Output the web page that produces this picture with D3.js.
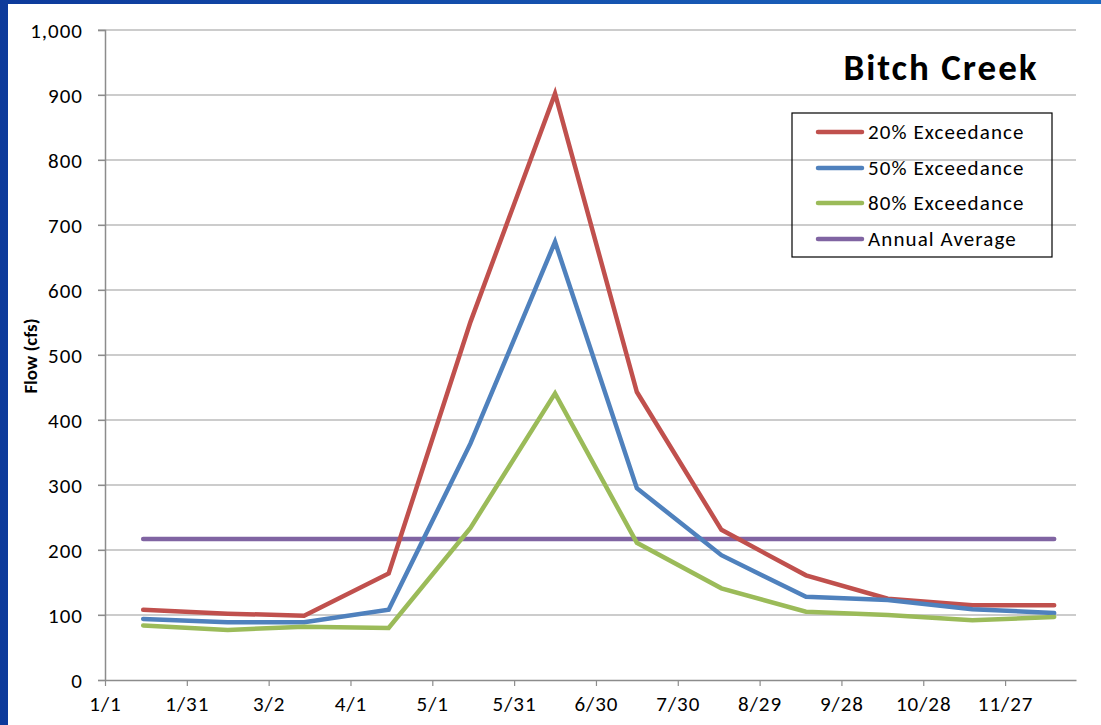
<!DOCTYPE html>
<html><head><meta charset="utf-8">
<script src="https://cdn.jsdelivr.net/npm/d3@7"></script>
<style>body{margin:0;padding:0;overflow:hidden}svg{display:block}</style>
</head><body>
<svg id="c" width="1101" height="725"></svg>
<script>
// Data (day of year, 0 = Jan 1)
const pointDays = [14, 45, 73, 104, 134, 165, 195, 226, 257, 287, 318, 348];
const exceed20 = [108, 102, 99, 164, 551, 902, 443, 231, 161, 125, 115, 115];
const exceed50 = [94, 89, 89, 108, 364, 674, 295, 192, 128, 123, 109, 103];
const exceed80 = [84, 77, 82, 80, 234, 441, 211, 141, 105, 100, 92, 97];
const annualAvg = [217, 217, 217, 217, 217, 217, 217, 217, 217, 217, 217, 217];
const seriesNames = ["20% Exceedance", "50% Exceedance", "80% Exceedance", "Annual Average"];
const tickDays = [0, 30, 60, 90, 120, 150, 180, 210, 240, 270, 300, 330];
const tickLabels = ["1/1", "1/31", "3/2", "4/1", "5/1", "5/31", "6/30", "7/30", "8/29", "9/28", "10/28", "11/27"];
const yTicks = [0, 100, 200, 300, 400, 500, 600, 700, 800, 900, 1000];

const svg = d3.select("#c");
const W = 1101, H = 725;
const font = "Calibri, Carlito, 'Open Sans', sans-serif";

// background
const defs = svg.append("defs");
const g = defs.append("linearGradient").attr("id", "bg").attr("x1", "0").attr("x2", "1").attr("y1", "0").attr("y2", "0");
g.append("stop").attr("offset", "0").attr("stop-color", "#0d3a9b");
g.append("stop").attr("offset", "1").attr("stop-color", "#1c68c0");
svg.append("rect").attr("width", W).attr("height", H).attr("fill", "url(#bg)");
svg.append("rect").attr("x", 8).attr("y", 4).attr("width", W - 8).attr("height", H - 4).attr("fill", "#fff");

const L = 105, R = 1076, T = 30, B = 680;
const x = d3.scaleLinear().domain([0, 356]).range([L, R]);
const y = d3.scaleLinear().domain([0, 1000]).range([B, T]);

// gridlines
svg.append("g").selectAll("line").data(yTicks.filter(d => d > 0)).join("line")
  .attr("x1", L - 7).attr("x2", R).attr("y1", d => y(d)).attr("y2", d => y(d))
  .attr("stroke", "#9a9a9a").attr("stroke-width", 1.2);

// y axis
const yAxis = d3.axisLeft(y).tickValues(yTicks).tickSize(7).tickFormat(d3.format(","));
const ya = svg.append("g").attr("transform", `translate(${L},0)`).call(yAxis);
ya.select(".domain").attr("stroke", "#8c8c8c").attr("stroke-width", 1.5);
ya.selectAll(".tick line").attr("stroke", "#8c8c8c").attr("stroke-width", 1.2);
ya.selectAll("text").attr("font-family", font).attr("font-size", 21).attr("letter-spacing", "1px")
  .attr("fill", "#000").attr("x", -22).attr("dy", "0.35em");

// x axis
const xAxis = d3.axisBottom(x).tickValues(tickDays).tickSize(6).tickSizeOuter(0).tickFormat((d, i) => tickLabels[i]);
const xa = svg.append("g").attr("transform", `translate(0,${B})`).call(xAxis);
xa.select(".domain").attr("stroke", "#8c8c8c").attr("stroke-width", 1.5);
xa.selectAll(".tick line").attr("stroke", "#8c8c8c").attr("stroke-width", 1.2);
xa.selectAll("text").attr("font-family", font).attr("font-size", 21).attr("letter-spacing", "1px")
  .attr("fill", "#000").attr("y", 16).attr("dy", "0.71em");

// y label
svg.append("text").attr("transform", "translate(37,356) rotate(-90)").attr("text-anchor", "middle")
  .attr("font-family", font).attr("font-weight", "bold").attr("font-size", 19).text("Flow (cfs)");

// lines
const colors = ["#c0504d", "#4f81bd", "#9bbb59", "#8064a2"];
const allSeries = [exceed20, exceed50, exceed80, annualAvg];
const line = d3.line().x((d, i) => x(pointDays[i])).y(d => y(d));
const drawOrder = [3, 0, 1, 2];
drawOrder.forEach(k => {
  svg.append("path").datum(allSeries[k]).attr("d", line).attr("fill", "none")
    .attr("stroke", colors[k]).attr("stroke-width", 4.5).attr("stroke-linejoin", "miter").attr("stroke-linecap", "round");
});

// title
svg.append("text").attr("x", 941).attr("y", 80).attr("text-anchor", "middle")
  .attr("font-family", font).attr("font-weight", "bold").attr("font-size", 37).attr("letter-spacing", "2px").text("Bitch Creek");

// legend
const lg = svg.append("g");
lg.append("rect").attr("x", 792).attr("y", 113).attr("width", 260).attr("height", 144)
  .attr("fill", "none").attr("stroke", "#000").attr("stroke-width", 1.2);
const rowY = [132, 168, 203, 239];
seriesNames.forEach((n, i) => {
  lg.append("line").attr("x1", 818).attr("x2", 862).attr("y1", rowY[i]).attr("y2", rowY[i])
    .attr("stroke", colors[i]).attr("stroke-width", 4.5).attr("stroke-linecap", "round");
  lg.append("text").attr("x", 868).attr("y", rowY[i]).attr("dy", "0.35em")
    .attr("font-family", font).attr("font-size", 21).attr("letter-spacing", "1.1px").text(n);
});
</script>
</body></html>
